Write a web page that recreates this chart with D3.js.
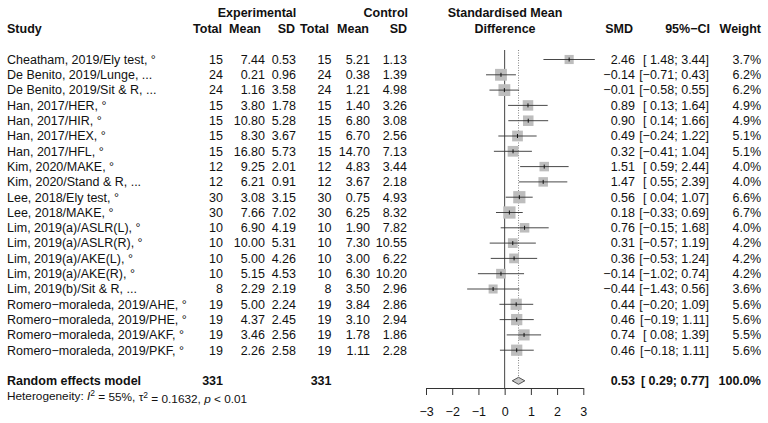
<!DOCTYPE html>
<html><head><meta charset="utf-8">
<script src="https://cdn.jsdelivr.net/npm/d3@7"></script>
<style>
body{margin:0;background:#fff;}
svg text{font-family:"Liberation Sans",Arial,Helvetica,sans-serif;fill:#111;}
</style></head>
<body><svg id="c" width="768" height="423"></svg>
<script>
const studies = ["Cheatham, 2019/Ely test, °","De Benito, 2019/Lunge, ...","De Benito, 2019/Sit & R, ...","Han, 2017/HER, °","Han, 2017/HIR, °","Han, 2017/HEX, °","Han, 2017/HFL, °","Kim, 2020/MAKE, °","Kim, 2020/Stand & R, ...","Lee, 2018/Ely test, °","Lee, 2018/MAKE, °","Lim, 2019(a)/ASLR(L), °","Lim, 2019(a)/ASLR(R), °","Lim, 2019(a)/AKE(L), °","Lim, 2019(a)/AKE(R), °","Lim, 2019(b)/Sit & R, ...","Romero\u2212moraleda, 2019/AHE, °","Romero\u2212moraleda, 2019/PHE, °","Romero\u2212moraleda, 2019/AKF, °","Romero\u2212moraleda, 2019/PKF, °"];
const expTotal = [15,24,24,15,15,15,15,12,12,30,30,10,10,10,10,8,19,19,19,19];
const expMean = [7.44,0.21,1.16,3.80,10.80,8.30,16.80,9.25,6.21,3.08,7.66,6.90,10.00,5.00,5.15,2.29,5.00,4.37,3.46,2.26];
const expSD = [0.53,0.96,3.58,1.78,5.28,3.67,5.73,2.01,0.91,3.15,7.02,4.19,5.31,4.26,4.53,2.19,2.24,2.45,2.56,2.58];
const ctrlTotal = [15,24,24,15,15,15,15,12,12,30,30,10,10,10,10,8,19,19,19,19];
const ctrlMean = [5.21,0.38,1.21,1.40,6.80,6.70,14.70,4.83,3.67,0.75,6.25,1.90,7.30,3.00,6.30,3.50,3.84,3.10,1.78,1.11];
const ctrlSD = [1.13,1.39,4.98,3.26,3.08,2.56,7.13,3.44,2.18,4.93,8.32,7.82,10.55,6.22,10.20,2.96,2.86,2.94,1.86,2.28];
const smd = [2.46,-0.14,-0.01,0.89,0.90,0.49,0.32,1.51,1.47,0.56,0.18,0.76,0.31,0.36,-0.14,-0.44,0.44,0.46,0.74,0.46];
const lower = [1.48,-0.71,-0.58,0.13,0.14,-0.24,-0.41,0.59,0.55,0.04,-0.33,-0.15,-0.57,-0.53,-1.02,-1.43,-0.20,-0.19,0.08,-0.18];
const upper = [3.44,0.43,0.55,1.64,1.66,1.22,1.04,2.44,2.39,1.07,0.69,1.68,1.19,1.24,0.74,0.56,1.09,1.11,1.39,1.11];
const weight = [3.7,6.2,6.2,4.9,4.9,5.1,5.1,4.0,4.0,6.6,6.7,4.0,4.2,4.2,4.2,3.6,5.6,5.6,5.5,5.6];
const pooled = {smd:0.53, lower:0.29, upper:0.77, weight:100.0, expTotal:331, ctrlTotal:331};
const axisTicks = [-3,-2,-1,0,1,2,3];
const heterogeneity = {I2:"55%", tau2:"0.1632", p:"< 0.01"};

const svg = d3.select("#c");
const FS = 12.5;
const x = d3.scaleLinear().domain([-3,3]).range([426,583.3]);
const y = d3.scaleLinear().domain([0,21]).range([59.5, 59.5+21*15.3]);
const sq = d3.scaleSqrt().domain([0,6.7]).range([0,12.3]);

const num = v => (v<0?"\u2212":"") + Math.abs(v).toFixed(2);
const ci = (l,u) => "[" + (l<0?"":" ") + num(l) + "; " + num(u) + "]";

function txt(xp, yp, s, anchor, bold, size){
  return svg.append("text").attr("x",xp).attr("y",yp).attr("dy","0.35em")
    .attr("text-anchor",anchor||"start").attr("font-size",size||FS)
    .attr("font-weight",bold?"bold":"normal").text(s);
}

// headers
txt(257,13,"Experimental","middle",true);
txt(408,13,"Control","end",true);
txt(505,13,"Standardised Mean","middle",true);
txt(7,29,"Study","start",true);
txt(222,29,"Total","end",true);
txt(261,29,"Mean","end",true);
txt(295,29,"SD","end",true);
txt(329,29,"Total","end",true);
txt(369,29,"Mean","end",true);
txt(407,29,"SD","end",true);
txt(505,29,"Difference","middle",true);
txt(633,29,"SMD","end",true);
txt(710,29,"95%\u2212CI","end",true);
txt(761,29,"Weight","end",true);

// columns
const cols = [
  {xp:223, vals:expTotal, f:d=>d},
  {xp:265, vals:expMean, f:d=>d.toFixed(2)},
  {xp:296, vals:expSD, f:d=>d.toFixed(2)},
  {xp:331.5, vals:ctrlTotal, f:d=>d},
  {xp:370, vals:ctrlMean, f:d=>d.toFixed(2)},
  {xp:407, vals:ctrlSD, f:d=>d.toFixed(2)},
  {xp:635, vals:smd, f:num},
  {xp:761, vals:weight, f:d=>d.toFixed(1)+"%"}
];
svg.append("g").selectAll("text").data(studies).join("text")
  .attr("x",7).attr("y",(d,i)=>y(i)).attr("dy","0.35em").attr("font-size",FS).text(d=>d);
cols.forEach(c=>{
  svg.append("g").selectAll("text").data(c.vals).join("text")
    .attr("x",c.xp).attr("y",(d,i)=>y(i)).attr("dy","0.35em").attr("text-anchor","end")
    .attr("font-size",FS).text(c.f);
});
svg.append("g").selectAll("text").data(smd).join("text")
  .attr("x",709).attr("y",(d,i)=>y(i)).attr("dy","0.35em").attr("text-anchor","end")
  .attr("font-size",FS).text((d,i)=>ci(lower[i],upper[i]));

// pooled row
const pr = 21;
txt(7,y(pr),"Random effects model","start",true);
txt(223,y(pr),String(pooled.expTotal),"end",true);
txt(331.5,y(pr),String(pooled.ctrlTotal),"end",true);
txt(635,y(pr),num(pooled.smd),"end",true);
txt(709,y(pr),ci(pooled.lower,pooled.upper),"end",true);
txt(761,y(pr),pooled.weight.toFixed(1)+"%","end",true);

// heterogeneity
const ht = svg.append("text").attr("x",7).attr("y",y(pr)+15).attr("dy","0.35em").attr("font-size",11.8);
ht.append("tspan").text("Heterogeneity: ");
ht.append("tspan").attr("font-style","italic").text("I");
ht.append("tspan").attr("font-size",8.5).attr("dy","-0.45em").text("2");
ht.append("tspan").attr("dy","0.45em").text(" = "+heterogeneity.I2+", \u03c4");
ht.append("tspan").attr("font-size",8.5).attr("dy","-0.45em").text("2");
ht.append("tspan").attr("dy","0.45em").text(" = "+heterogeneity.tau2+", ");
ht.append("tspan").attr("font-style","italic").text("p");
ht.append("tspan").text(" "+heterogeneity.p);

// plot
const axisY = 388;
const plotTop = 50;
svg.append("line").attr("x1",x(0)).attr("x2",x(0)).attr("y1",plotTop).attr("y2",axisY)
  .attr("stroke","#444").attr("stroke-width",1);
svg.append("line").attr("x1",x(pooled.smd)).attr("x2",x(pooled.smd)).attr("y1",plotTop).attr("y2",y(pr)-4)
  .attr("stroke","#666").attr("stroke-width",0.8).attr("stroke-dasharray","1,1.5");

const g = svg.append("g");
g.selectAll("rect").data(smd).join("rect")
  .attr("x",(d,i)=>x(d)-sq(weight[i])/2).attr("y",(d,i)=>y(i)-sq(weight[i])/2)
  .attr("width",(d,i)=>sq(weight[i])).attr("height",(d,i)=>sq(weight[i]))
  .attr("fill","#bdbdbd");
g.selectAll("line.ci").data(smd).join("line").attr("class","ci")
  .attr("x1",(d,i)=>x(lower[i])).attr("x2",(d,i)=>x(upper[i]))
  .attr("y1",(d,i)=>y(i)).attr("y2",(d,i)=>y(i)).attr("stroke","#333").attr("stroke-width",0.9);
g.selectAll("line.pt").data(smd).join("line").attr("class","pt")
  .attr("x1",d=>x(d)).attr("x2",d=>x(d))
  .attr("y1",(d,i)=>y(i)-2).attr("y2",(d,i)=>y(i)+2).attr("stroke","#111").attr("stroke-width",1);

// diamond
const py = y(pr);
svg.append("path")
  .attr("d",`M${x(pooled.lower)},${py} L${x(pooled.smd)},${py-3.5} L${x(pooled.upper)},${py} L${x(pooled.smd)},${py+3.5} Z`)
  .attr("fill","#c8c8c8").attr("stroke","#444").attr("stroke-width",0.9);

// axis
const ax = svg.append("g").attr("transform",`translate(0,${axisY})`)
  .call(d3.axisBottom(x).tickValues(axisTicks).tickSizeOuter(0).tickSizeInner(7).tickPadding(12)
    .tickFormat(d=>(d<0?"\u2212":"")+Math.abs(d)));
ax.selectAll("path,line").attr("stroke","#333");
ax.selectAll("text").attr("font-size",FS).attr("font-family",'"Liberation Sans",Arial,sans-serif').attr("fill","#111");
</script></body></html>
